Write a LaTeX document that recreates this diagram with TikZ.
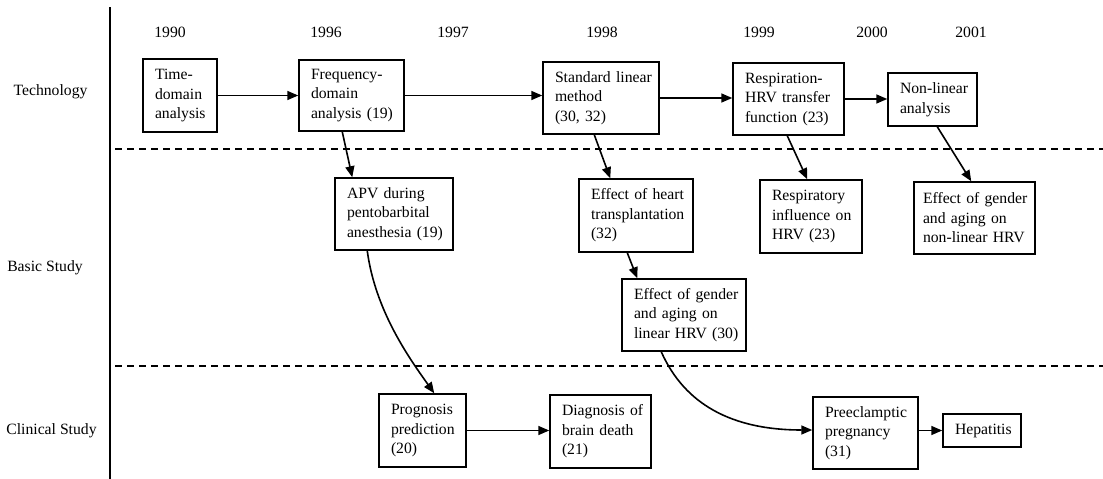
\documentclass[tikz,border=0pt]{standalone}
\usepackage{fontspec}
\setmainfont{Liberation Serif}
\usetikzlibrary{arrows.meta,calc}
\begin{document}
\begin{tikzpicture}[x=1pt,y=-1pt,
  every node/.style={font=\fontsize{15.7}{19.5}\selectfont},
  box/.style={draw,line width=1.5pt,align=left,inner xsep=6pt,inner ysep=0pt,
    execute at begin node={\leftskip=6pt\hyphenpenalty=10000\exhyphenpenalty=10000}},
  arr/.style={line width=1.6pt,-{Triangle[length=11pt,width=9pt]}},
  sep/.style={line width=1.4pt,dash pattern=on 7pt off 5pt},
  yearlbl/.style={anchor=center},
  rowlbl/.style={anchor=center}]
\useasboundingbox[fill=white] (0,0) rectangle (1103,479);

% axis and separators
\coordinate (axtop) at (110,7);
\coordinate (axbot) at (110,479);
\draw[line width=2pt] (axtop) -- (axbot);
\coordinate (s1a) at (115,149);
\coordinate (s1b) at (1103,149);
\coordinate (s2a) at (115,366);
\coordinate (s2b) at (1103,366);
\draw[sep] (s1a) -- (s1b);
\draw[sep] (s2a) -- (s2b);

% years
\node[yearlbl] (y1990) at (170,32) {1990};
\node[yearlbl] (y1996) at (326,32) {1996};
\node[yearlbl] (y1997) at (453,32) {1997};
\node[yearlbl] (y1998) at (602,32) {1998};
\node[yearlbl] (y1999) at (759,32) {1999};
\node[yearlbl] (y2000) at (872,32) {2000};
\node[yearlbl] (y2001) at (971,32) {2001};

% row labels
\node[rowlbl] (rtech) at (50.5,92) {Technology};
\node[rowlbl] (rbasic) at (45,268) {Basic Study};
\node[rowlbl] (rclin) at (51.5,431) {Clinical Study};

% technology row
\node[box,minimum width=74pt,minimum height=73pt,text width=62pt] (td) at (180,95.5) {Time-\\domain\\analysis};
\node[box,minimum width=105pt,minimum height=71pt,text width=93pt] (fd) at (351.5,95.5) {Frequency-\\domain\\analysis (19)};
\node[box,minimum width=116pt,minimum height=72pt,text width=104pt] (sl) at (601,98) {Standard linear\\method\\(30, 32)};
\node[box,minimum width=111pt,minimum height=72pt,text width=99pt] (rh) at (788.5,99) {Respiration-\\HRV transfer\\function (23)};
\node[box,minimum width=89pt,minimum height=53pt,text width=77pt] (nl) at (932.5,99.5) {Non-linear\\analysis};

% basic study row
\node[box,minimum width=118pt,minimum height=72pt,text width=106pt] (apv) at (394,214) {APV during\\pentobarbital\\anesthesia (19)};
\node[box,minimum width=114pt,minimum height=73pt,text width=102pt] (eh) at (636,215.5) {Effect of heart\\transplantation\\(32)};
\node[box,minimum width=102pt,minimum height=73pt,text width=90pt] (ri) at (811,216.5) {Respiratory\\influence on\\HRV (23)};
\node[box,inner xsep=3pt,minimum width=121pt,minimum height=72pt,text width=115pt] (eg2) at (974.5,218) {Effect of gender\\and aging on\\non-linear HRV};
\node[box,minimum width=124pt,minimum height=72pt,text width=112pt] (egl) at (684,315) {Effect of gender\\and aging on\\linear HRV (30)};

% clinical study row
\node[box,minimum width=87pt,minimum height=73pt,text width=75pt] (pp) at (422.5,430.5) {Prognosis\\prediction\\(20)};
\node[box,minimum width=101pt,minimum height=73pt,text width=89pt] (db) at (600.5,431.5) {Diagnosis of\\brain death\\(21)};
\node[box,minimum width=105pt,minimum height=72pt,text width=93pt] (pe) at (865.5,433) {Preeclamptic\\pregnancy\\(31)};
\node[box,minimum width=78pt,minimum height=33pt,text width=66pt] (hp) at (982,430.5) {Hepatitis};

% connectors
\draw[arr] (td.east) -- (fd.west);
\draw[arr] (fd.east) -- (fd.east -| sl.west);
\draw[arr] (sl.east) -- (sl.east -| rh.west);
\draw[arr] (rh.east) -- (rh.east -| nl.west);
\draw[arr] ($(fd.south west)+(44,0)$) -- ($(apv.north west)+(18,0)$);
\draw[arr] ($(sl.south west)+(52,0)$) -- ($(eh.north west)+(32,0)$);
\draw[arr] ($(rh.south west)+(55,0)$) -- ($(ri.north west)+(48,0)$);
\draw[arr] ($(nl.south west)+(50,0)$) -- ($(eg2.north west)+(58,0)$);
\draw[arr] ($(eh.south west)+(49,0)$) -- ($(egl.north west)+(16,0)$);
\draw[arr] ($(apv.south west)+(33,0)$) .. controls +(8,60) and +(-25,-35) .. ($(pp.north west)+(56,0)$);
\draw[arr] ($(egl.south west)+(40,0)$) .. controls +(20,45) and +(-90,0) .. ($(pe.west)+(0,-3)$);
\draw[arr] (pp.east) -- (pp.east -| db.west);
\draw[arr] (hp.west -| pe.east) -- (hp.west);
\end{tikzpicture}
\end{document}
